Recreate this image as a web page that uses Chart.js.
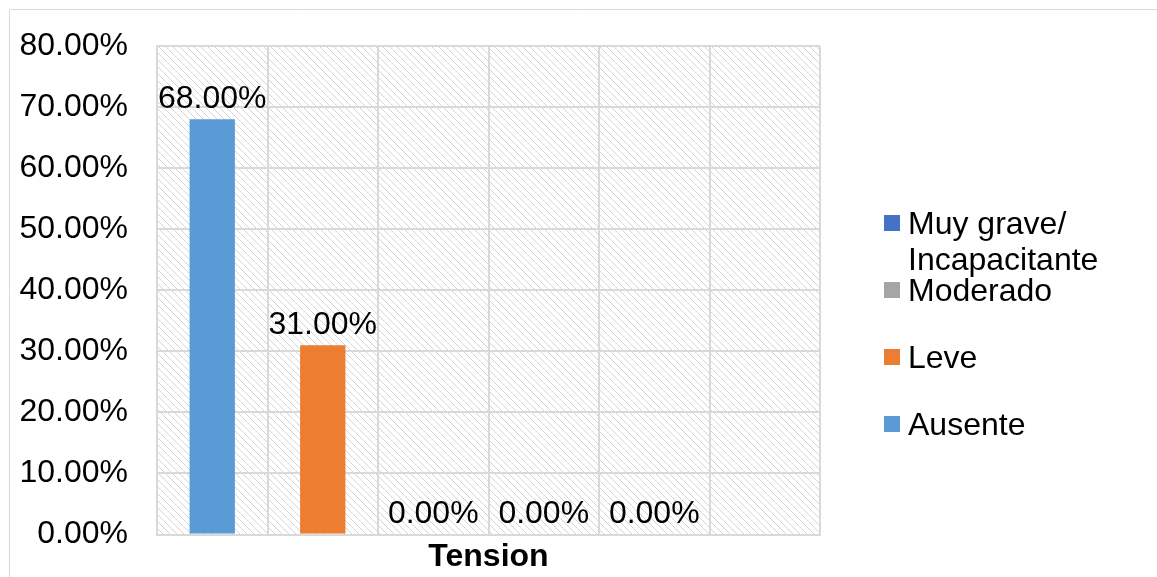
<!DOCTYPE html>
<html>
<head>
<meta charset="utf-8">
<script src="https://cdn.jsdelivr.net/npm/chart.js@4"></script>
<style>
  body { margin: 0; background: #fff; }
  canvas { display: block; }
</style>
</head>
<body>
<canvas id="grafico" width="1157" height="577"></canvas>
<script>
// columnas del eje x (sin etiqueta visible)
const categorias = ['Ausente', 'Leve', 'Moderado', 'Muy grave/Incapacitante', 'Grave', ''];
const series = ['Ausente', 'Leve', 'Moderado', 'Muy grave/\nIncapacitante', ''];
const valores = [0.68, 0.31, 0, 0, 0];
const colores = ['#5b9bd5', '#ed7d31', '#a5a5a5', '#4472c4', '#ffc000'];
const ticksY = [0, 0.1, 0.2, 0.3, 0.4, 0.5, 0.6, 0.7, 0.8];
const tituloX = 'Tension';

const fuente = "'Liberation Sans', Arial, sans-serif";
const gris = '#d9d9d9';

function porcentaje(v) {
    return (v * 100).toFixed(2) + '%';
}

const datasets = series.map(function (nombre, i) {
    const datos = categorias.map(function (c, j) { return j === i ? valores[i] : null; });
    return {
        label: nombre,
        data: datos,
        backgroundColor: colores[i],
        borderWidth: 0,
        skipNull: true,
        categoryPercentage: 1,
        barPercentage: 0.41
    };
});

function patronRayado(ctx) {
    const c = document.createElement('canvas');
    c.width = 7;
    c.height = 7;
    const p = c.getContext('2d');
    p.strokeStyle = '#d4d4d4';
    p.lineWidth = 1;
    p.beginPath();
    p.moveTo(-1, -1); p.lineTo(8, 8);
    p.moveTo(-8, -1); p.lineTo(1, 8);
    p.moveTo(6, -1); p.lineTo(15, 8);
    p.stroke();
    return ctx.createPattern(c, 'repeat');
}

const fondo = {
    id: 'fondo',
    beforeDraw(chart) {
        const ctx = chart.ctx;
        const a = chart.chartArea;
        ctx.save();
        ctx.strokeStyle = gris;
        ctx.lineWidth = 1;
        ctx.beginPath();
        ctx.moveTo(9.5, chart.height);
        ctx.lineTo(9.5, 9.5);
        ctx.lineTo(chart.width, 9.5);
        ctx.stroke();
        ctx.fillStyle = patronRayado(ctx);
        ctx.fillRect(a.left, a.top, a.right - a.left, a.bottom - a.top);
        ctx.restore();
    }
};

const etiquetas = {
    id: 'etiquetas',
    afterDatasetsDraw(chart) {
        const ctx = chart.ctx;
        ctx.save();
        ctx.font = '32px ' + fuente;
        ctx.fillStyle = '#000';
        ctx.textAlign = 'center';
        ctx.textBaseline = 'bottom';
        chart.data.datasets.forEach(function (ds, i) {
            const meta = chart.getDatasetMeta(i);
            ds.data.forEach(function (v, j) {
                if (v === null) return;
                const el = meta.data[j];
                ctx.fillText(porcentaje(v), el.x, el.y - 4);
            });
        });
        ctx.restore();
    }
};

const leyenda = {
    id: 'leyenda',
    afterDraw(chart) {
        const ctx = chart.ctx;
        ctx.save();
        ctx.font = '32px ' + fuente;
        ctx.fillStyle = '#000';
        ctx.textAlign = 'left';
        ctx.textBaseline = 'alphabetic';
        let y = 234;
        for (let i = chart.data.datasets.length - 1; i >= 0; i--) {
            const ds = chart.data.datasets[i];
            if (!ds.label) continue;
            ctx.fillStyle = ds.backgroundColor;
            ctx.fillRect(884, y - 19, 16, 16);
            ctx.fillStyle = '#000';
            ds.label.split('\n').forEach(function (linea, k) {
                ctx.fillText(linea, 908, y + k * 36);
            });
            y += 67;
        }
        ctx.restore();
    }
};

new Chart(document.getElementById('grafico'), {
    type: 'bar',
    data: { labels: categorias, datasets: datasets },
    plugins: [fondo, etiquetas, leyenda],
    options: {
        responsive: false,
        animation: false,
        layout: { padding: { top: 46, right: 337, left: 0, bottom: 0 } },
        plugins: {
            legend: { display: false },
            tooltip: { enabled: false }
        },
        scales: {
            x: {
                afterFit(scale) { scale.height = 42.5; scale.paddingLeft = 0; scale.paddingRight = 0; },
                grid: { color: gris, lineWidth: 2, offset: true, drawTicks: false },
                border: { color: gris, width: 2 },
                ticks: { display: false },
                title: {
                    display: true,
                    text: tituloX,
                    color: '#000',
                    font: { family: fuente, size: 32, weight: 'bold' },
                    padding: { top: 4, bottom: 1 }
                }
            },
            y: {
                min: 0,
                max: 0.8,
                afterFit(scale) {
                    scale.width = 157;
                    scale.paddingTop = 0;
                    scale.paddingBottom = 0;
                },
                afterBuildTicks(scale) { scale.ticks = ticksY.map(function (v) { return { value: v }; }); },
                grid: { color: gris, lineWidth: 2, drawTicks: false },
                border: { color: gris, width: 2 },
                ticks: {
                    color: '#000',
                    padding: 29,
                    font: { family: fuente, size: 32 },
                    callback: function (v) { return porcentaje(v); }
                }
            }
        }
    }
});
</script>
</body>
</html>
